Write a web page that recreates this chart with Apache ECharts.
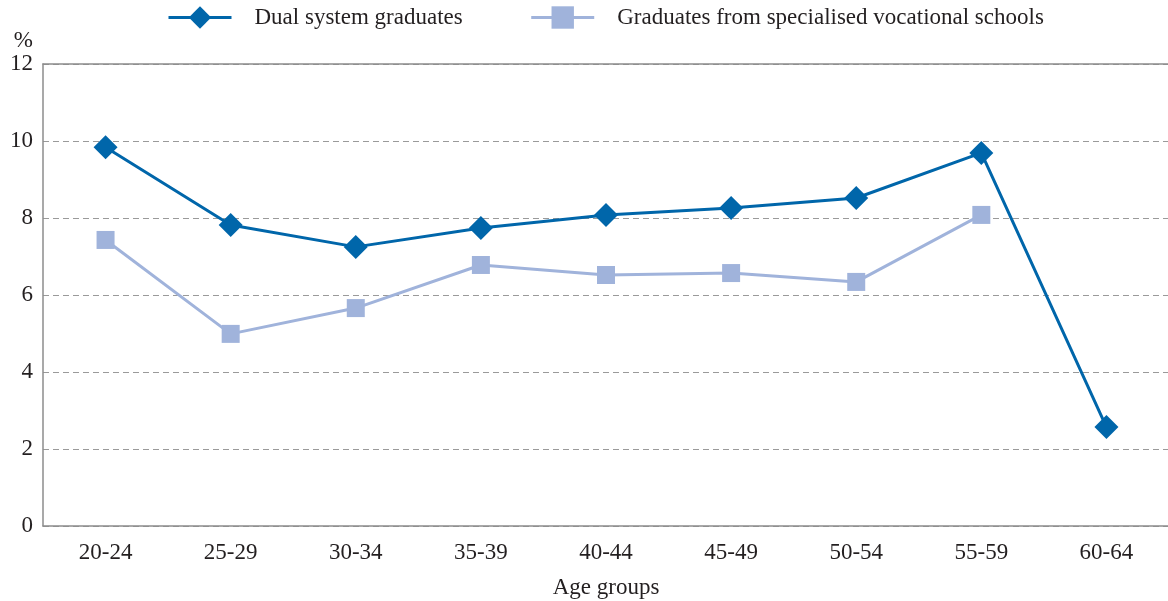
<!DOCTYPE html>
<html>
<head>
<meta charset="utf-8">
<script src="https://cdn.jsdelivr.net/npm/echarts@6/dist/echarts.min.js"></script>
<style>html,body{margin:0;padding:0;background:#fff}#c{width:1168px;height:601px}</style>
</head>
<body>
<div id="c"></div>
<script>
const categories = ['20-24','25-29','30-34','35-39','40-44','45-49','50-54','55-59','60-64'];
const dualSystem = [9.84, 7.82, 7.25, 7.74, 8.08, 8.26, 8.52, 9.69, 2.57];
const specialised = [7.43, 4.99, 5.66, 6.78, 6.52, 6.57, 6.34, 8.08, null];
const seriesNames = ['Dual system graduates', 'Graduates from specialised vocational schools'];

const FONT = 'Liberation Serif';
const TXT = '#231f20';
const chart = echarts.init(document.getElementById('c'), null, {renderer: 'canvas'});
chart.setOption({
  animation: false,
  textStyle: {fontFamily: FONT},
  legend: {
    left: 162, top: 0, padding: [6, 5, 5, 5],
    itemWidth: 63, itemHeight: 28, itemGap: 67,
    lineStyle: {width: 3},
    textStyle: {fontFamily: FONT, fontSize: 23, color: TXT, padding: [0, 0, 0, 18]},
    data: seriesNames
  },
  grid: {left: 43, right: -1, top: 64, bottom: 75, containLabel: false, outerBoundsMode: 'none'},
  xAxis: [{
    type: 'category', data: categories, boundaryGap: true,
    name: 'Age groups', nameLocation: 'middle', nameGap: 50,
    nameTextStyle: {fontFamily: FONT, fontSize: 23, color: TXT},
    axisLine: {lineStyle: {color: '#8c8c8c', width: 1.5}},
    axisTick: {show: false},
    axisLabel: {fontFamily: FONT, fontSize: 23, color: TXT, margin: 15}
  }, {
    type: 'category', data: categories, position: 'top',
    axisLine: {show: true, lineStyle: {color: '#8c8c8c', width: 1.5}},
    axisTick: {show: false}, axisLabel: {show: false}
  }],
  yAxis: {
    type: 'value', min: 0, max: 12, interval: 2,
    name: '%', nameLocation: 'end', nameGap: 12,
    nameTextStyle: {fontFamily: FONT, fontSize: 23, color: TXT, align: 'right', padding: [0, 10, 0, 0]},
    axisLine: {show: true, lineStyle: {color: '#8c8c8c', width: 1.5}},
    axisTick: {show: false},
    axisLabel: {fontFamily: FONT, fontSize: 23, color: TXT, margin: 10},
    splitLine: {lineStyle: {color: '#9a9a9a', type: [6, 4], width: 1}}
  },
  series: [{
    name: seriesNames[0], type: 'line', data: dualSystem,
    symbol: 'diamond', symbolSize: 24,
    lineStyle: {color: '#0066aa', width: 3},
    itemStyle: {color: '#0066aa'}
  }, {
    name: seriesNames[1], type: 'line', data: specialised,
    symbol: 'rect', symbolSize: 18, connectNulls: false,
    lineStyle: {color: '#a0b3db', width: 3},
    itemStyle: {color: '#a0b3db'}
  }]
});
</script>
</body>
</html>
